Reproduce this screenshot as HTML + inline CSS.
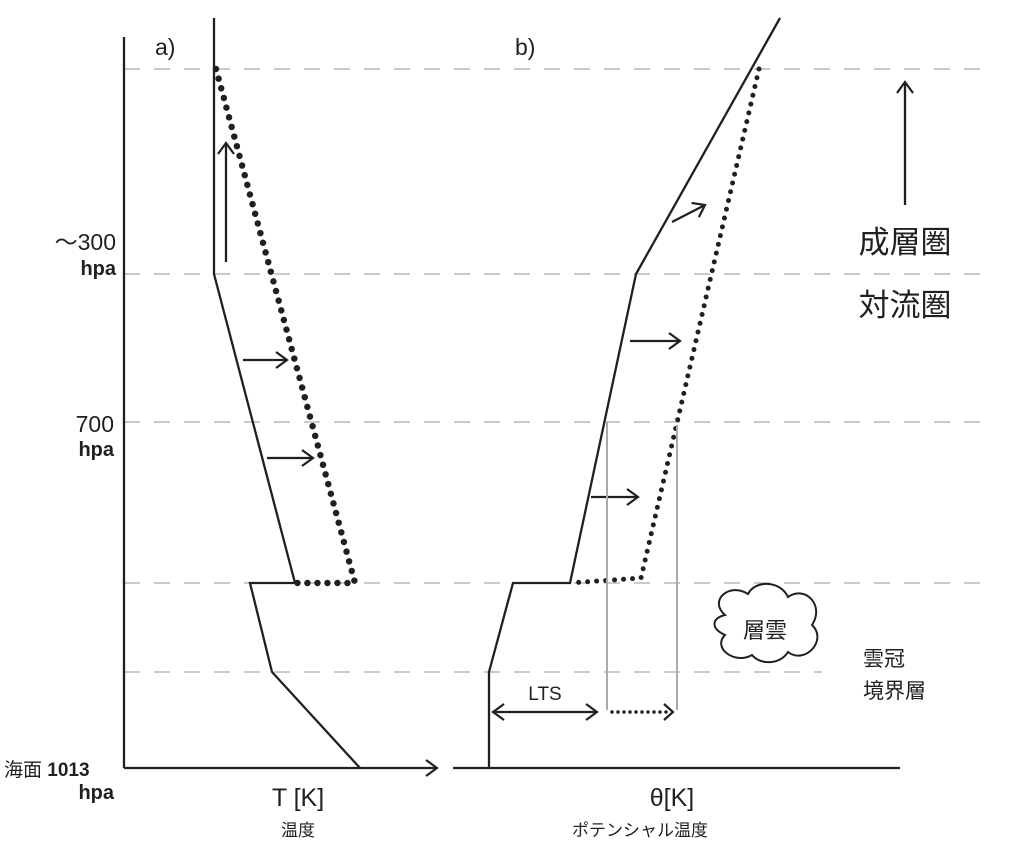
<!DOCTYPE html>
<html><head><meta charset="utf-8"><style>body{margin:0;background:#fff}svg{display:block}text{font-family:"Liberation Sans","Noto Sans CJK JP",sans-serif;fill:#231f20}</style></head><body>
<svg width="1024" height="861" viewBox="0 0 1024 861" xmlns="http://www.w3.org/2000/svg">
<defs><marker id="ah" markerWidth="16" markerHeight="18" refX="13" refY="9" orient="auto" markerUnits="userSpaceOnUse"><path d="M2,1 L13,9 L2,17" fill="none" stroke="#231f20" stroke-width="2.2"/></marker>
<marker id="as" markerWidth="16" markerHeight="18" refX="3" refY="9" orient="auto" markerUnits="userSpaceOnUse"><path d="M14,1 L3,9 L14,17" fill="none" stroke="#231f20" stroke-width="2.2"/></marker></defs>
<g stroke="#aaa" stroke-width="1.3" stroke-dasharray="16,14" fill="none">
<line x1="124" y1="69" x2="990" y2="69"/><line x1="124" y1="274" x2="990" y2="274"/><line x1="124" y1="422" x2="990" y2="422"/><line x1="124" y1="583" x2="990" y2="583"/><line x1="124" y1="672" x2="822" y2="672"/>
</g>
<g stroke="#231f20" stroke-width="2.3" fill="none">
<line x1="124" y1="37" x2="124" y2="768"/>
<line x1="124" y1="768" x2="437" y2="768" marker-end="url(#ah)"/>
<line x1="453" y1="768" x2="900" y2="768"/>
<polyline points="214,18 214,274 295,583 250,583 272,672 360,768"/>
<polyline points="780,18 636,274 570,583 513,583 489,672 489,768"/>
<line x1="226" y1="262" x2="226" y2="143" marker-end="url(#ah)"/>
<line x1="243" y1="360" x2="287" y2="360" marker-end="url(#ah)"/>
<line x1="267" y1="458" x2="313" y2="458" marker-end="url(#ah)"/>
<line x1="672" y1="222" x2="705" y2="205" marker-end="url(#ah)"/>
<line x1="630" y1="341" x2="680" y2="341" marker-end="url(#ah)"/>
<line x1="591" y1="497" x2="638" y2="497" marker-end="url(#ah)"/>
<line x1="905" y1="205" x2="905" y2="82" marker-end="url(#ah)"/>
<line x1="493" y1="712" x2="597" y2="712" marker-start="url(#as)" marker-end="url(#ah)"/>
</g>
<g stroke="#231f20" stroke-linecap="round" fill="none">
<polyline points="216,69 355,583 295,583" stroke-width="6.5" stroke-dasharray="0,10"/>
<polyline points="759,69 641,578 570,583" stroke-width="5" stroke-dasharray="0,9"/>
<line x1="612" y1="712" x2="668" y2="712" stroke-width="3.5" stroke-dasharray="0,6"/>
</g>
<path d="M664,704 L673,712 L664,720" fill="none" stroke="#231f20" stroke-width="2.2"/>
<g stroke="#aaa" stroke-width="2"><line x1="607" y1="422" x2="607" y2="710"/><line x1="677" y1="425" x2="677" y2="710"/></g>
<path d="M725,615 C708,600 730,582 748,594 C755,580 780,580 788,597 C805,585 825,605 812,625 C828,640 805,665 788,652 C780,665 760,665 752,655 C735,665 712,648 725,635 C710,628 712,618 725,615 Z" fill="#fff" stroke="#231f20" stroke-width="2"/>
<text x="765" y="638" font-size="22" text-anchor="middle">層雲</text>
<text x="155" y="55" font-size="23" font-family="Liberation Serif,serif">a)</text>
<text x="515" y="55" font-size="23" font-family="Liberation Serif,serif">b)</text>
<text x="116" y="250" font-size="23" text-anchor="end">～300</text>
<text x="116" y="275" font-size="20" font-weight="bold" text-anchor="end">hpa</text>
<text x="114" y="432" font-size="23" text-anchor="end">700</text>
<text x="114" y="456" font-size="20" font-weight="bold" text-anchor="end">hpa</text>
<text x="4" y="776" font-size="19">海面 <tspan font-weight="bold">1013</tspan></text>
<text x="114" y="799" font-size="20" font-weight="bold" text-anchor="end">hpa</text>
<text x="298" y="806" font-size="25" text-anchor="middle">T [K]</text>
<text x="298" y="836" font-size="17" text-anchor="middle">温度</text>
<text x="672" y="806" font-size="25" text-anchor="middle">θ[K]</text>
<text x="640" y="836" font-size="17" text-anchor="middle">ポテンシャル温度</text>
<text x="905" y="253" font-size="31" text-anchor="middle">成層圏</text>
<text x="905" y="316" font-size="31" text-anchor="middle">対流圏</text>
<text x="863" y="666" font-size="21">雲冠</text>
<text x="863" y="698" font-size="21">境界層</text>
<text x="545" y="700" font-size="19" text-anchor="middle">LTS</text>
</svg></body></html>
